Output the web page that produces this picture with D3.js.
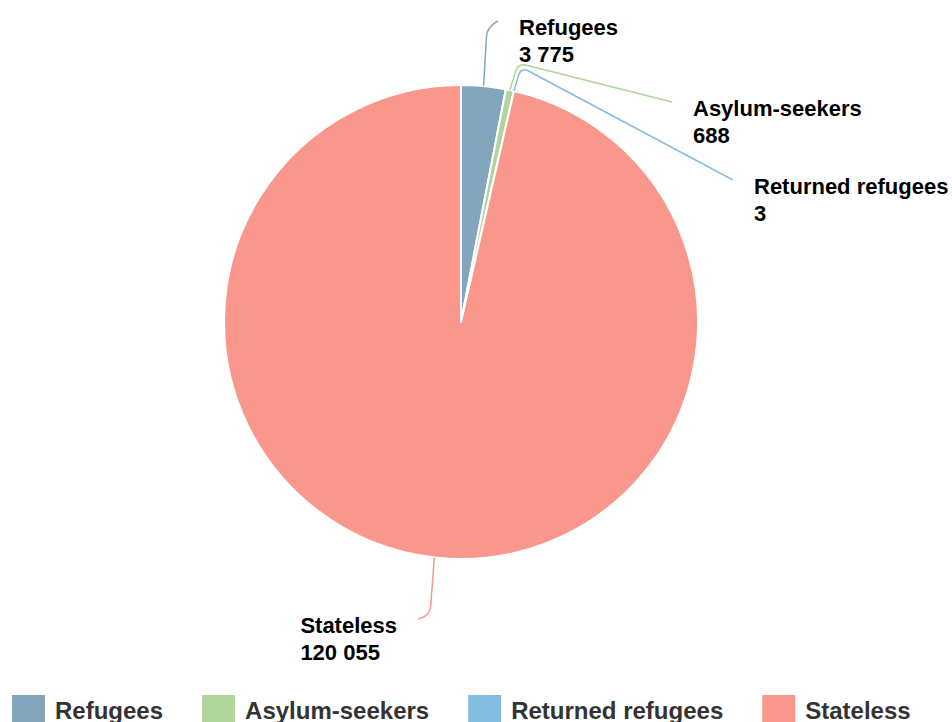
<!DOCTYPE html>
<html lang="en">
<head>
<meta charset="utf-8">
<title>Population pie</title>
<script src="https://cdn.jsdelivr.net/npm/d3@7"></script>
<style>
  html, body { margin: 0; padding: 0; background: #fff; overflow: hidden; }
  text { font-family: "Liberation Sans", Arial, Helvetica, sans-serif; font-weight: bold; }
</style>
</head>
<body>
<script>
var categories = ["Refugees", "Asylum-seekers", "Returned refugees", "Stateless"];
var values = [3775, 688, 3, 120055];
var valueLabels = ["3 775", "688", "3", "120 055"];
var colors = ["#84a6bd", "#b1d49b", "#82bde1", "#fa978c"];

// label layout: where each connector bends and ends (screen px)
var bends = [[487, 28], [518, 63], [521, 67], [430, 615]];
var ends = [[498, 21], [672, 102], [733, 180], [418, 619]];

var w = 952, h = 722;
var cx = 461, cy = 322, r = 237;

var svg = d3.select("body").append("svg")
    .attr("width", w)
    .attr("height", h);

var data = categories.map(function (c, i) {
    return { name: c, value: values[i], label: valueLabels[i], color: colors[i], i: i };
});

var pie = d3.pie().sort(null).value(function (d) { return d.value; });
var arc = d3.arc().innerRadius(0).outerRadius(r);
var arcs = pie(data);

var g = svg.append("g").attr("transform", "translate(" + cx + "," + cy + ")");

g.selectAll("path.slice")
    .data(arcs)
    .enter()
    .append("path")
    .attr("class", "slice")
    .attr("d", arc)
    .attr("fill", function (d) { return d.data.color; })
    .attr("stroke", "#fff")
    .attr("stroke-width", 2)
    .attr("stroke-linejoin", "round");

// connector: straight to bend, rounded corner, straight to end
function connector(d) {
    var a = (d.startAngle + d.endAngle) / 2;
    var p0 = [cx + r * Math.sin(a), cy - r * Math.cos(a)];
    var b = bends[d.data.i], e = ends[d.data.i];
    var rad = 9;
    var d1x = b[0] - p0[0], d1y = b[1] - p0[1], l1 = Math.hypot(d1x, d1y);
    var d2x = e[0] - b[0], d2y = e[1] - b[1], l2 = Math.hypot(d2x, d2y);
    var q1 = [b[0] - d1x / l1 * rad, b[1] - d1y / l1 * rad];
    var q2 = [b[0] + d2x / l2 * Math.min(rad, l2 * 0.8), b[1] + d2y / l2 * Math.min(rad, l2 * 0.8)];
    var p = d3.path();
    p.moveTo(p0[0], p0[1]);
    p.lineTo(q1[0], q1[1]);
    p.quadraticCurveTo(b[0], b[1], q2[0], q2[1]);
    p.lineTo(e[0], e[1]);
    return p.toString();
}

svg.selectAll("path.link")
    .data(arcs)
    .enter()
    .append("path")
    .attr("class", "link")
    .attr("d", connector)
    .attr("fill", "none")
    .attr("stroke", function (d) { return d.data.color; })
    .attr("stroke-width", 1.5);

// labels
var labels = svg.selectAll("g.label")
    .data(arcs)
    .enter()
    .append("g")
    .attr("class", "label");

labels.each(function (d) {
    var sel = d3.select(this);
    var e = ends[d.data.i];
    var right = e[0] > cx;
    var t = sel.append("text")
        .attr("font-size", "22px")
        .attr("fill", "#000")
        .attr("stroke", "#fff")
        .attr("stroke-width", 3)
        .attr("paint-order", "stroke")
        .attr("x", 0)
        .attr("y", e[1] + 14);
    t.append("tspan").attr("x", 0).text(d.data.name);
    t.append("tspan").attr("x", 0).attr("dy", 26.5).text(d.data.label);
    var bw = 0;
    t.selectAll("tspan").each(function () {
        bw = Math.max(bw, this.getComputedTextLength());
    });
    var x = right ? e[0] + 21 : e[0] - 21 - bw;
    t.attr("x", x);
    t.selectAll("tspan").attr("x", x);
});

// legend
var legend = svg.append("g").attr("class", "legend");
var lx = 12;
data.forEach(function (d) {
    legend.append("rect")
        .attr("x", lx)
        .attr("y", 695)
        .attr("width", 33)
        .attr("height", 33)
        .attr("fill", d.color);
    var t = legend.append("text")
        .attr("x", lx + 43)
        .attr("y", 719)
        .attr("font-size", "24px")
        .attr("fill", "#333")
        .text(d.name);
    lx += 43 + t.node().getComputedTextLength() + 39;
});
</script>
</body>
</html>
